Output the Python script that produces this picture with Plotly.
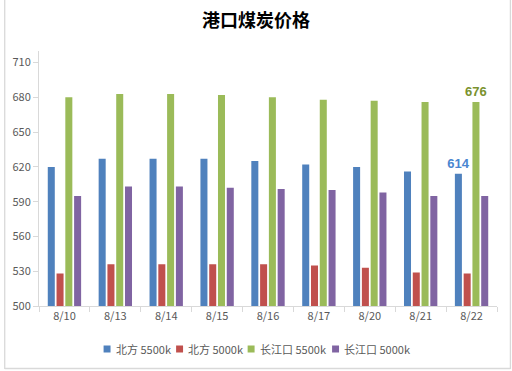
import plotly.graph_objects as go

categories = ["8/10", "8/13", "8/14", "8/15", "8/16", "8/17", "8/20", "8/21", "8/22"]
north_5500 = [620, 627, 627, 627, 625, 622, 620, 616, 614]
north_5000 = [528, 536, 536, 536, 536, 535, 533, 529, 528]
yangtze_5500 = [680, 683, 683, 682, 680, 678, 677, 676, 676]
yangtze_5000 = [595, 603, 603, 602, 601, 600, 598, 595, 595]
series_names = ["北方 5500k", "北方 5000k", "长江口 5500k", "长江口 5000k"]
colors = ["#4F81BD", "#C0504D", "#9BBB59", "#8064A2"]
label_colors = ["#4A86D0", None, "#7A922E", None]

FONT = "Noto Sans CJK SC, Liberation Sans, sans-serif"
fig = go.Figure()
for name, vals, c, lc in zip(series_names, [north_5500, north_5000, yangtze_5500, yangtze_5000], colors, label_colors):
    texts = [""] * (len(vals) - 1) + [str(vals[-1])] if lc else None
    fig.add_trace(go.Bar(
        x=categories, y=vals, name=name, marker_color=c, marker_line_width=0,
        text=texts, textposition="outside" if lc else "none", constraintext="none",
        textfont=dict(color=lc or c, size=13, family="Liberation Sans, sans-serif", weight="bold"),
        cliponaxis=False, showlegend=False,
    ))

L, R, T, B = 36, 15, 51, 65
W, H = 512, 371
pw, ph = W - L - R, H - T - B


def px_x(px):
    return (px - L) / pw


def px_y(py):
    return (H - B - py) / ph


fig.update_layout(
    width=W, height=H,
    margin=dict(l=L, r=R, t=T, b=B),
    paper_bgcolor="white", plot_bgcolor="white",
    barmode="group", bargap=0.31, bargroupgap=0.2,
    title=dict(text="<b>港口煤炭价格</b>", x=0.5, xref="container", xanchor="center", y=1 - 21 / H, yanchor="middle",
               font=dict(family=FONT, size=18, color="#000000")),
    font=dict(family=FONT, size=11, color="#595959"),
    showlegend=False,
)
fig.update_xaxes(showline=True, linecolor="#D9D9D9", linewidth=1, ticks="outside", tickson="boundaries",
                 tickcolor="#D9D9D9", ticklen=5, showgrid=False, tickfont=dict(size=11, color="#595959"))
fig.update_yaxes(range=[500, 720], tick0=500, dtick=30, showline=True, linecolor="#D9D9D9", linewidth=1,
                 ticks="outside", tickcolor="#D9D9D9", ticklen=5, showgrid=False, zeroline=False,
                 tickfont=dict(size=11, color="#595959"))
# outer chart border (left, right, bottom edges)
for x0, x1, y0, y1 in [(1.5, 1.5, 0, 369), (510.5, 510.5, 0, 369), (1.5, 510.5, 368.5, 368.5)]:
    fig.add_shape(type="line", xref="paper", yref="paper", x0=px_x(x0), x1=px_x(x1), y0=px_y(y0), y1=px_y(y1),
                  line=dict(color="#D9D9D9", width=1.3), layer="above")

# custom compact legend
legend_x = [101, 174, 246, 331]
ly = 349
for name, c, x0 in zip(series_names, colors, legend_x):
    fig.add_shape(type="rect", xref="paper", yref="paper",
                  x0=px_x(x0), x1=px_x(x0 + 7), y0=px_y(ly + 3.5), y1=px_y(ly - 3.5),
                  line=dict(width=0), fillcolor=c)
    fig.add_annotation(xref="paper", yref="paper", x=px_x(x0 + 10), y=px_y(ly), text=name,
                       showarrow=False, xanchor="left", yanchor="middle",
                       font=dict(family=FONT, size=11, color="#595959"))
fig.write_html("out.html", config={"displayModeBar": False},
               post_script="document.body.style.margin='0';document.body.style.overflow='hidden';")
